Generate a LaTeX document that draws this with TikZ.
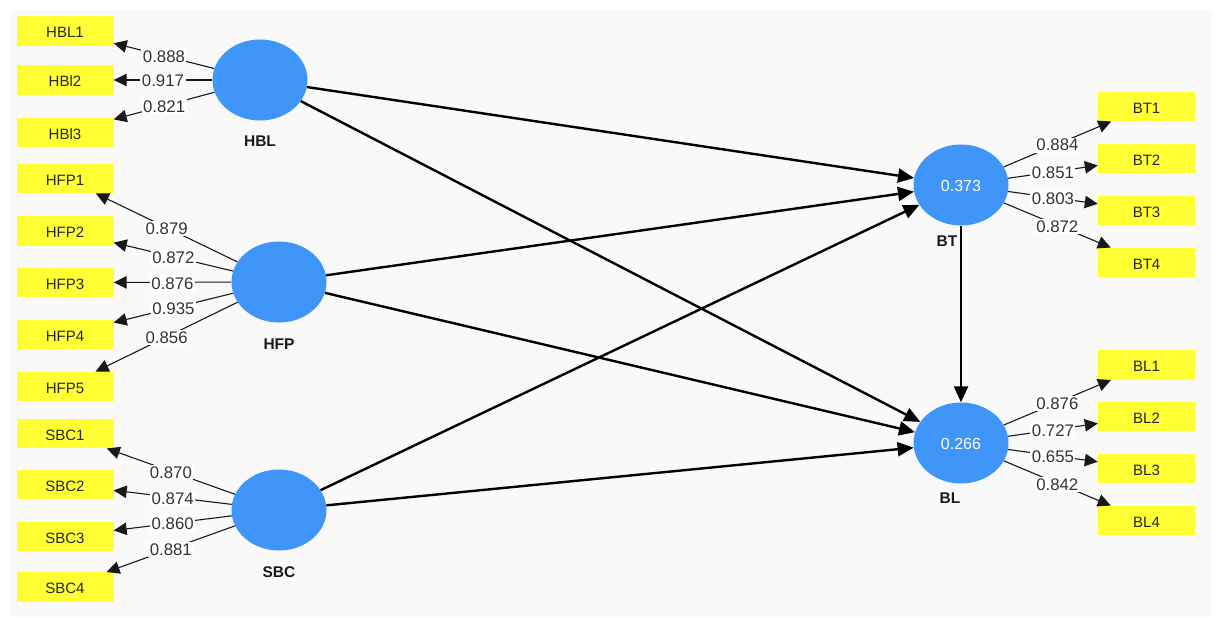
\documentclass[tikz,border=0pt]{standalone}
\usepackage{fontspec}
\setmainfont{Liberation Sans}
\usetikzlibrary{shapes.geometric,arrows.meta}
\definecolor{latentblue}{HTML}{3F96F8}
\definecolor{itemyellow}{HTML}{FFFF33}
\definecolor{panelgray}{HTML}{F9F9F9}
\begin{document}
\begin{tikzpicture}[x=1pt,y=-1pt]

\tikzset{latent/.style={ellipse,minimum width=95pt,minimum height=81pt,inner sep=0pt,fill=latentblue,text=white,text height=13pt,text depth=0pt,font=\fontsize{16}{16}\selectfont},}
\tikzset{itembox/.style={rectangle,minimum width=97pt,minimum height=29.5pt,inner sep=0pt,fill=itemyellow,text=black!85,text height=13pt,text depth=0pt,font=\fontsize{15}{16}\selectfont},}
\tikzset{latentname/.style={inner sep=0pt,text=black!90,font=\fontsize{15.5}{16}\selectfont\bfseries},}
\tikzset{weightlabel/.style={midway,yshift=-1pt,fill=white,inner sep=1.5pt,text=black!80,font=\fontsize{16.8}{16}\selectfont},}
\tikzset{loadingline/.style={-{Triangle[length=13pt,width=12.5pt]},line width=1.1pt,black!90},}
\tikzset{pathline/.style={-{Triangle[length=16pt,width=14pt]},line width=2.4pt,black},}

\useasboundingbox (0,0) rectangle (1218,618);
\fill[panelgray] (11,10) rectangle (1212,617);

%LATENT
\draw (260,80) node [latent] (hbl) {};
\draw (279,282) node [latent] (hfp) {};
\draw (279,510) node [latent] (sbc) {};
\draw (961,185) node [latent] (bt) {0.373};
\draw (961,443) node [latent] (bl) {0.266};

\draw (260,141.5) node [latentname] (hblname) {HBL};
\draw (279,344.5) node [latentname] (hfpname) {HFP};
\draw (279,572.5) node [latentname] (sbcname) {SBC};
\draw (947,241.5) node [latentname] (btname) {BT};
\draw (950,498.5) node [latentname] (blname) {BL};

%HBL
\draw (65,31) node [itembox] (hbl1) {HBL1};
\draw (65,80) node [itembox] (hbl2) {HBl2};
\draw (65,132.5) node [itembox] (hbl3) {HBl3};

\draw[loadingline] (hbl) -- node[weightlabel] (w1) {0.888} (hbl1);
\draw[loadingline] (hbl) -- node[weightlabel] (w2) {0.917} (hbl2);
\draw[loadingline] (hbl) -- node[weightlabel] (w3) {0.821} (hbl3);

%HFP
\draw (65,178.5) node [itembox] (hfp1) {HFP1};
\draw (65,231) node [itembox] (hfp2) {HFP2};
\draw (65,282.5) node [itembox] (hfp3) {HFP3};
\draw (65,334.5) node [itembox] (hfp4) {HFP4};
\draw (65,386.5) node [itembox] (hfp5) {HFP5};

\draw[loadingline] (hfp) -- node[weightlabel] (w4) {0.879} (hfp1);
\draw[loadingline] (hfp) -- node[weightlabel] (w5) {0.872} (hfp2);
\draw[loadingline] (hfp) -- node[weightlabel] (w6) {0.876} (hfp3);
\draw[loadingline] (hfp) -- node[weightlabel] (w7) {0.935} (hfp4);
\draw[loadingline] (hfp) -- node[weightlabel] (w8) {0.856} (hfp5);

%SBC
\draw (65,433.5) node [itembox] (sbc1) {SBC1};
\draw (65,484.5) node [itembox] (sbc2) {SBC2};
\draw (65,536.5) node [itembox] (sbc3) {SBC3};
\draw (65,587) node [itembox] (sbc4) {SBC4};

\draw[loadingline] (sbc) -- node[weightlabel] (w9) {0.870} (sbc1);
\draw[loadingline] (sbc) -- node[weightlabel] (w10) {0.874} (sbc2);
\draw[loadingline] (sbc) -- node[weightlabel] (w11) {0.860} (sbc3);
\draw[loadingline] (sbc) -- node[weightlabel] (w12) {0.881} (sbc4);

%BT
\draw (1146.5,106.5) node [itembox] (bt1) {BT1};
\draw (1146.5,158.5) node [itembox] (bt2) {BT2};
\draw (1146.5,210.5) node [itembox] (bt3) {BT3};
\draw (1146.5,262.5) node [itembox] (bt4) {BT4};

\draw[loadingline] (bt) -- node[weightlabel] (w13) {0.884} (bt1);
\draw[loadingline] (bt) -- node[weightlabel] (w14) {0.851} (bt2);
\draw[loadingline] (bt) -- node[weightlabel] (w15) {0.803} (bt3);
\draw[loadingline] (bt) -- node[weightlabel] (w16) {0.872} (bt4);

%BL
\draw (1146.5,365) node [itembox] (bl1) {BL1};
\draw (1146.5,416.5) node [itembox] (bl2) {BL2};
\draw (1146.5,468.5) node [itembox] (bl3) {BL3};
\draw (1146.5,520.5) node [itembox] (bl4) {BL4};

\draw[loadingline] (bl) -- node[weightlabel] (w17) {0.876} (bl1);
\draw[loadingline] (bl) -- node[weightlabel] (w18) {0.727} (bl2);
\draw[loadingline] (bl) -- node[weightlabel] (w19) {0.655} (bl3);
\draw[loadingline] (bl) -- node[weightlabel] (w20) {0.842} (bl4);

%PATHS
\draw[pathline] (hbl) -- (bt);
\draw[pathline] (hbl) -- (bl);
\draw[pathline] (hfp) -- (bt);
\draw[pathline] (hfp) -- (bl);
\draw[pathline] (sbc) -- (bt);
\draw[pathline] (sbc) -- (bl);
\draw[pathline] (bt) -- (bl);

\end{tikzpicture}
\end{document}
